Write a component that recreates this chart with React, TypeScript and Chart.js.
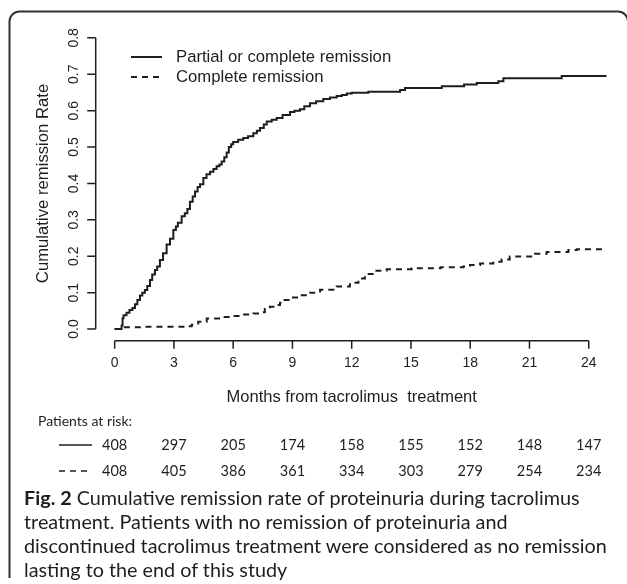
import React, { useEffect, useRef } from "react";
import { Chart, registerables } from "chart.js";

Chart.register(...registerables);

// ---- data ----
const seriesNames = ["Partial or complete remission", "Complete remission"];

const partialMonths = [
  0, 0.3, 0.35, 0.4, 0.45, 0.6, 0.75, 0.9, 1.03, 1.15, 1.28, 1.4, 1.53, 1.65, 1.79, 1.9,
  2.04, 2.15, 2.29, 2.45, 2.63, 2.8, 2.97, 3.1, 3.2, 3.39, 3.55, 3.68, 3.81, 3.95, 4.07,
  4.2, 4.32, 4.49, 4.65, 4.83, 5.0, 5.16, 5.3, 5.42, 5.55, 5.67, 5.78, 5.9, 6.0, 6.25,
  6.51, 6.75, 7.02, 7.2, 7.36, 7.55, 7.7, 7.95, 8.2, 8.5, 8.88, 9.1, 9.38, 9.6, 9.89,
  10.2, 10.56, 10.9, 11.24, 11.5, 11.75, 12.0, 12.84, 14.45, 14.7, 16.56, 17.69, 18.33,
  19.42, 19.68, 22.63, 24.9,
];
const partialRate = [
  0, 0, 0.01, 0.03, 0.038, 0.045, 0.052, 0.058, 0.068, 0.08, 0.092, 0.1, 0.107, 0.118,
  0.135, 0.15, 0.162, 0.172, 0.19, 0.208, 0.232, 0.248, 0.272, 0.282, 0.292, 0.31, 0.318,
  0.33, 0.35, 0.364, 0.378, 0.39, 0.398, 0.415, 0.425, 0.432, 0.44, 0.447, 0.452, 0.46,
  0.472, 0.485, 0.5, 0.508, 0.514, 0.52, 0.525, 0.53, 0.538, 0.545, 0.552, 0.562, 0.57,
  0.575, 0.58, 0.588, 0.596, 0.6, 0.604, 0.612, 0.62, 0.626, 0.632, 0.636, 0.64, 0.643,
  0.647, 0.649, 0.652, 0.657, 0.662, 0.667, 0.672, 0.676, 0.681, 0.689, 0.695, 0.695,
];

const completeMonths = [
  0, 0.44, 1.5, 3.64, 3.9, 4.23, 4.66, 5.5, 6.0, 6.5, 7.02, 7.36, 7.6, 7.86, 8.1, 8.37,
  8.6, 8.88, 9.38, 9.9, 10.4, 11.24, 11.91, 12.34, 12.67, 13.18, 13.77, 15.04, 16.5,
  17.65, 17.99, 18.5, 19.17, 19.59, 20.0, 21.28, 21.87, 22.97, 23.4, 24.9,
];
const completeRate = [
  0, 0.005, 0.006, 0.008, 0.012, 0.02, 0.029, 0.033, 0.036, 0.04, 0.043, 0.046, 0.055,
  0.061, 0.066, 0.072, 0.08, 0.087, 0.093, 0.1, 0.108, 0.117, 0.127, 0.139, 0.151, 0.16,
  0.164, 0.167, 0.17, 0.172, 0.176, 0.18, 0.185, 0.191, 0.199, 0.207, 0.212, 0.217,
  0.219, 0.219,
];

const xTickValues = [0, 3, 6, 9, 12, 15, 18, 21, 24];
const yTickValues = [0, 0.1, 0.2, 0.3, 0.4, 0.5, 0.6, 0.7, 0.8];
const yTickLabels = ["0.0", "0.1", "0.2", "0.3", "0.4", "0.5", "0.6", "0.7", "0.8"];

const atRiskLabel = "Patients at risk:";
const atRiskPartial = [408, 297, 205, 174, 158, 155, 152, 148, 147];
const atRiskComplete = [408, 405, 386, 361, 334, 303, 279, 254, 234];

const xTitle = "Months from tacrolimus  treatment";
const yTitle = "Cumulative remission Rate";

const captionBold = "Fig. 2";
const captionLines = [
  " Cumulative remission rate of proteinuria during tacrolimus",
  "treatment. Patients with no remission of proteinuria and",
  "discontinued tacrolimus treatment were considered as no remission",
  "lasting to the end of this study",
];

// ---- styling ----
const INK = "#1e1e1e";
const R_FONT = '"Liberation Sans", Arial, sans-serif';
const CAP_FONT = 'Lato, "Open Sans", sans-serif';
const DASH = [6, 5];

const decorPlugin = {
  id: "rdecor",
  afterDraw(chart: any) {
    const ctx = chart.ctx as CanvasRenderingContext2D;
    const xs = chart.scales.x;
    const ys = chart.scales.y;
    const area = chart.chartArea;
    ctx.save();

    // outer frame (rounded, bottom cut off)
    ctx.strokeStyle = "#333";
    ctx.lineWidth = 2;
    const fl = 9.5, ft = 11.5, fr = 628, fb = 578, rad = 10;
    ctx.beginPath();
    ctx.moveTo(fl, fb);
    ctx.lineTo(fl, ft + rad);
    ctx.arcTo(fl, ft, fl + rad, ft, rad);
    ctx.lineTo(fr - rad, ft);
    ctx.arcTo(fr, ft, fr, ft + rad, rad);
    ctx.lineTo(fr, fb);
    ctx.stroke();

    ctx.strokeStyle = INK;
    ctx.fillStyle = INK;
    ctx.lineWidth = 1.5;

    // y axis
    const yAx = area.left;
    ctx.beginPath();
    ctx.moveTo(yAx, ys.getPixelForValue(yTickValues[0]));
    ctx.lineTo(yAx, ys.getPixelForValue(yTickValues[yTickValues.length - 1]));
    yTickValues.forEach((v) => {
      const py = ys.getPixelForValue(v);
      ctx.moveTo(yAx, py);
      ctx.lineTo(yAx - 8.5, py);
    });
    ctx.stroke();
    ctx.font = `14px ${R_FONT}`;
    ctx.textAlign = "center";
    ctx.textBaseline = "middle";
    yTickValues.forEach((v, i) => {
      const py = ys.getPixelForValue(v);
      ctx.save();
      ctx.translate(74, py);
      ctx.rotate(-Math.PI / 2);
      ctx.fillText(yTickLabels[i], 0, 0);
      ctx.restore();
    });

    // x axis
    const xAy = area.bottom;
    ctx.beginPath();
    ctx.moveTo(xs.getPixelForValue(xTickValues[0]), xAy);
    ctx.lineTo(xs.getPixelForValue(xTickValues[xTickValues.length - 1]), xAy);
    xTickValues.forEach((v) => {
      const px = xs.getPixelForValue(v);
      ctx.moveTo(px, xAy);
      ctx.lineTo(px, xAy + 8);
    });
    ctx.stroke();
    xTickValues.forEach((v) => {
      ctx.fillText(String(v), xs.getPixelForValue(v), 363);
    });

    // axis titles
    ctx.font = `16.5px ${R_FONT}`;
    ctx.fillText(xTitle, (xs.getPixelForValue(0) + xs.getPixelForValue(24)) / 2, 397);
    ctx.font = `16.7px ${R_FONT}`;
    ctx.save();
    ctx.translate(43, (ys.getPixelForValue(0) + ys.getPixelForValue(0.8)) / 2);
    ctx.rotate(-Math.PI / 2);
    ctx.fillText(yTitle, 0, 0);
    ctx.restore();

    // legend
    ctx.lineWidth = 2;
    ctx.textAlign = "left";
    const legY = [57, 77];
    [[], DASH].forEach((d, i) => {
      ctx.setLineDash(d as number[]);
      ctx.beginPath();
      ctx.moveTo(131, legY[i]);
      ctx.lineTo(162, legY[i]);
      ctx.stroke();
      ctx.setLineDash([]);
      ctx.fillText(seriesNames[i], 176, legY[i]);
    });

    // patients at risk table
    ctx.font = `14px ${CAP_FONT}`;
    ctx.fillText(atRiskLabel, 38, 421);
    ctx.font = `14.5px ${CAP_FONT}`;
    const rowY = [445, 471];
    [atRiskPartial, atRiskComplete].forEach((row, r) => {
      ctx.setLineDash(r === 1 ? [6, 5] : []);
      ctx.lineWidth = 1.6;
      ctx.beginPath();
      ctx.moveTo(59, rowY[r]);
      ctx.lineTo(92, rowY[r]);
      ctx.stroke();
      ctx.setLineDash([]);
      ctx.textAlign = "center";
      row.forEach((n, i) => {
        ctx.fillText(String(n), xs.getPixelForValue(xTickValues[i]), rowY[r]);
      });
      ctx.textAlign = "left";
    });

    ctx.restore();
  },
};

export default function App() {
  const ref = useRef<HTMLCanvasElement | null>(null);

  useEffect(() => {
    if (!ref.current) return;
    const chart = new Chart(ref.current, {
      type: "line",
      data: {
        datasets: [
          {
            label: seriesNames[0],
            data: partialMonths.map((m, i) => ({ x: m, y: partialRate[i] })),
            borderColor: INK,
            borderWidth: 2,
            pointRadius: 0,
            stepped: "before",
            fill: false,
          },
          {
            label: seriesNames[1],
            data: completeMonths.map((m, i) => ({ x: m, y: completeRate[i] })),
            borderColor: INK,
            borderWidth: 2,
            borderDash: DASH,
            pointRadius: 0,
            stepped: "before",
            fill: false,
          },
        ],
      },
      options: {
        animation: false,
        responsive: false,
        devicePixelRatio: 1,
        layout: { padding: { left: 95.7, right: 19.3, top: 26.2, bottom: 243.3 } },
        plugins: { legend: { display: false }, tooltip: { enabled: false } },
        scales: {
          x: { type: "linear", min: -0.96, max: 24.96, display: false },
          y: { type: "linear", min: -0.032, max: 0.832, display: false },
        },
      },
      plugins: [decorPlugin],
    });
    return () => chart.destroy();
  }, []);

  return (
    <div style={{ position: "fixed", left: 0, top: 0, width: 627, height: 584, background: "#fff" }}>
      <canvas ref={ref} width={627} height={584} style={{ position: "absolute", left: 0, top: 0 }} />
      <div
        style={{
          position: "absolute",
          left: 24,
          top: 485,
          fontFamily: CAP_FONT,
          fontSize: 19.8,
          lineHeight: "24px",
          color: INK,
          whiteSpace: "nowrap",
        }}
      >
        {captionLines.map((line, i) => (
          <div key={i}>
            {i === 0 ? <b>{captionBold}</b> : null}
            {line}
          </div>
        ))}
      </div>
    </div>
  );
}
